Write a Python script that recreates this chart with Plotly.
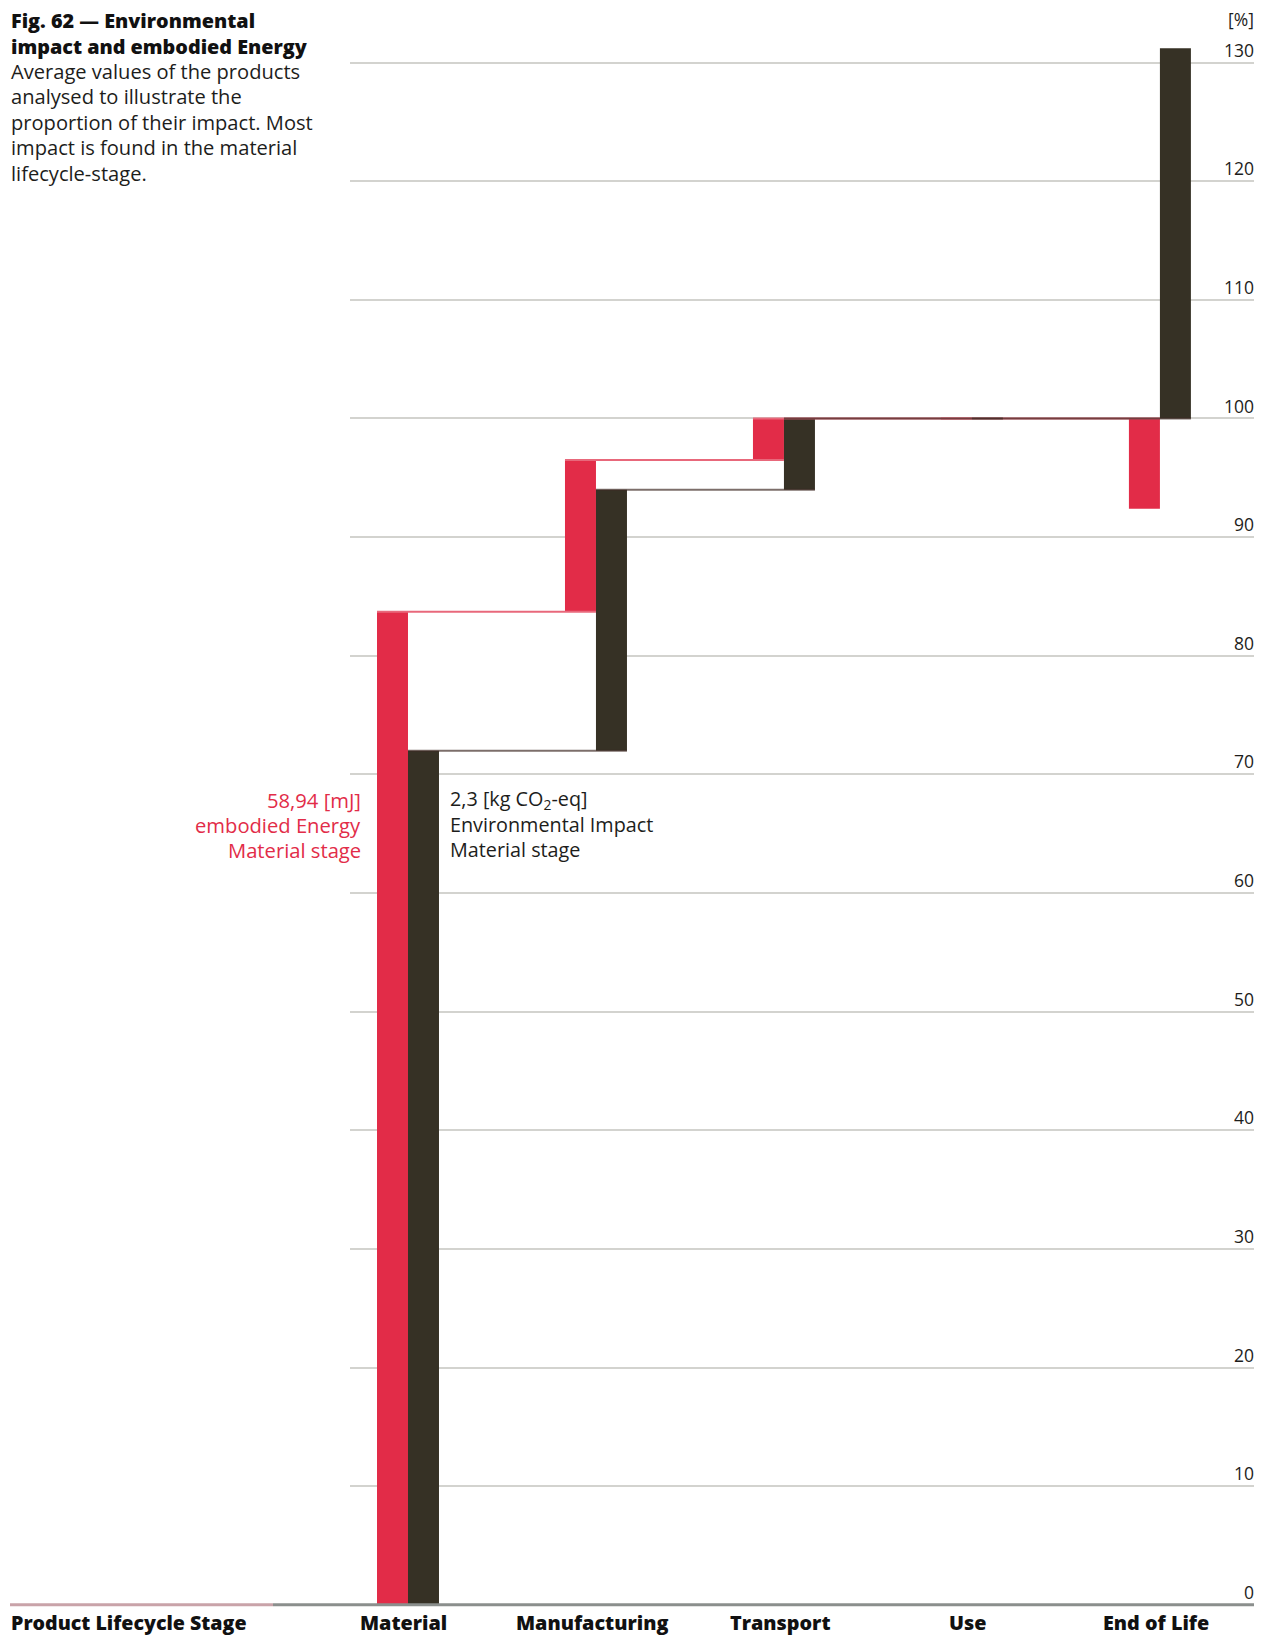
import plotly.graph_objects as go

# ---- data ----
categories = ["Material", "Manufacturing", "Transport", "Use", "End of Life"]
energy_delta = [83.7, 12.8, 3.5, 0.0, -7.6]     # embodied energy [%]
impact_delta = [72.0, 22.0, 6.0, 0.0, 31.2]     # environmental impact [%]
y_ticks = [0, 10, 20, 30, 40, 50, 60, 70, 80, 90, 100, 110, 120, 130]

title_bold = ["Fig. 62 — Environmental", "impact and embodied Energy"]
title_body = ["Average values of the products", "analysed to illustrate the",
              "proportion of their impact. Most", "impact is found in the material",
              "lifecycle-stage."]
energy_note = ["58,94 [mJ]", "embodied Energy", "Material stage"]
impact_note = ["2,3 [kg CO<sub>2</sub>-eq]", "Environmental Impact", "Material stage"]

RED = "#E22C48"
DARK = "#363125"
TXT = "#1d1d1b"
FONT = "Open Sans"

# page body margin compensation
OFF = 8
W, H = 1275 - OFF, 1636 - OFF

# target geometry (in final screenshot pixels)
PL, PR = 350, 1254          # plot left / right
Y0 = 1605                   # pixel of value 0
UPP = 11.864                # pixels per unit
YMIN, YMAX = -1.2, 133

PW = PR - PL
top_t = Y0 - YMAX * UPP
bot_t = Y0 - YMIN * UPP
PH = bot_t - top_t
ML = PL - OFF
MR = W - (PR - OFF)
MT = top_t - OFF
MB = H - (bot_t - OFF)


def px_x(xp):
    return (xp - PL) / PW


def px_y(yp):
    return (bot_t - yp) / PH


def waterfall(deltas):
    bases, tops = [], []
    level = 0.0
    for d in deltas:
        bases.append(level)
        level += d
        tops.append(level)
    return bases, tops


xs = list(range(len(categories)))
bw = 31 / 188

e_base, e_top = waterfall(energy_delta)
i_base, i_top = waterfall(impact_delta)

fig = go.Figure()

fig.add_trace(go.Bar(x=xs, y=energy_delta, base=e_base, offset=-bw, width=bw,
                     marker=dict(color=RED, line=dict(width=0)), hoverinfo="skip"))
fig.add_trace(go.Bar(x=xs, y=impact_delta, base=i_base, offset=0, width=bw,
                     marker=dict(color=DARK, line=dict(width=0)), hoverinfo="skip"))

shapes = []
# white fill between connectors, covering gridlines
for k in range(len(xs) - 1):
    lo, hi = sorted([e_top[k], i_top[k]])
    if hi - lo > 0.01:
        shapes.append(dict(type="rect", xref="x", yref="y", x0=xs[k], x1=xs[k + 1],
                           y0=lo, y1=hi, fillcolor="white", line=dict(width=0),
                           layer="between"))

# connectors
for k in range(len(xs) - 1):
    fig.add_trace(go.Scatter(x=[xs[k] - bw, xs[k + 1]], y=[e_top[k], e_top[k]],
                             mode="lines", line=dict(color="#e8687b", width=2),
                             hoverinfo="skip"))
for k in range(len(xs) - 1):
    fig.add_trace(go.Scatter(x=[xs[k], xs[k + 1] + bw], y=[i_top[k], i_top[k]],
                             mode="lines", line=dict(color="rgba(62,42,36,0.68)", width=2),
                             hoverinfo="skip"))

# bottom baseline
shapes.append(dict(type="line", xref="paper", yref="y", x0=px_x(10), x1=px_x(273),
                   y0=0, y1=0, line=dict(color="#c9a3a9", width=3), layer="above"))
shapes.append(dict(type="line", xref="paper", yref="y", x0=px_x(273), x1=1,
                   y0=0, y1=0, line=dict(color="#8b8f8d", width=3), layer="above"))

ann = []
# title
for j, t in enumerate(title_bold):
    ann.append(dict(text=t, xref="paper", yref="paper", x=px_x(9), y=px_y(20.5 + j * 25.8),
                    xanchor="left", yanchor="middle", showarrow=False,
                    font=dict(family=FONT, size=19.8, color="#111", weight=800)))
for j, t in enumerate(title_body):
    ann.append(dict(text=t, xref="paper", yref="paper", x=px_x(9), y=px_y(71.5 + j * 25.5),
                    xanchor="left", yanchor="middle", showarrow=False,
                    font=dict(family=FONT, size=20.1, color=TXT)))
# notes
for j, t in enumerate(energy_note):
    ann.append(dict(text=t, xref="paper", yref="paper", x=px_x(363), y=px_y(800 + j * 25),
                    xanchor="right", yanchor="middle", showarrow=False,
                    font=dict(family=FONT, size=20.2, color=RED)))
for j, t in enumerate(impact_note):
    ann.append(dict(text=t, xref="paper", yref="paper", x=px_x(448), y=px_y(800 + j * 25),
                    xanchor="left", yanchor="middle", showarrow=False,
                    font=dict(family=FONT, size=19.8, color=TXT)))
# unit label
ann.append(dict(text="[%]", xref="paper", yref="paper", x=1, xshift=2, y=px_y(19.5),
                xanchor="right", yanchor="middle", showarrow=False,
                font=dict(family=FONT, size=17.5, color=TXT)))
# category labels
ann.append(dict(text="Product Lifecycle Stage", xref="paper", yref="paper", x=px_x(9),
                y=px_y(1622.5), xanchor="left", yanchor="middle", showarrow=False,
                font=dict(family=FONT, size=19.6, color="#111", weight=800)))
for xv, c in zip(xs, categories):
    ann.append(dict(text=c, xref="x", yref="paper", x=xv, xshift=-4, y=px_y(1622.5),
                    xanchor="center", yanchor="middle", showarrow=False,
                    font=dict(family=FONT, size=19.8, color="#111", weight=800)))

fig.update_layout(
    width=W, height=H,
    margin=dict(l=ML, r=MR, t=MT, b=MB, autoexpand=False),
    paper_bgcolor="white", plot_bgcolor="white",
    barmode="overlay", showlegend=False,
    shapes=shapes, annotations=ann,
    font=dict(family=FONT, color=TXT),
    xaxis=dict(range=[-0.3085, 4.5005], showgrid=False, zeroline=False,
               showticklabels=False, showline=False, fixedrange=True),
    yaxis=dict(range=[YMIN, YMAX], side="right", tickvals=y_ticks,
               ticktext=[str(v) for v in y_ticks],
               showgrid=True, gridcolor="#d3d3cf", gridwidth=1.5, zeroline=False,
               showline=False, ticks="", ticklabelposition="inside",
               ticklabelshift=-12, ticklabelstandoff=-3,
               tickfont=dict(family=FONT, size=17.5, color=TXT),
               fixedrange=True),
)

fig.write_html("out.html")
